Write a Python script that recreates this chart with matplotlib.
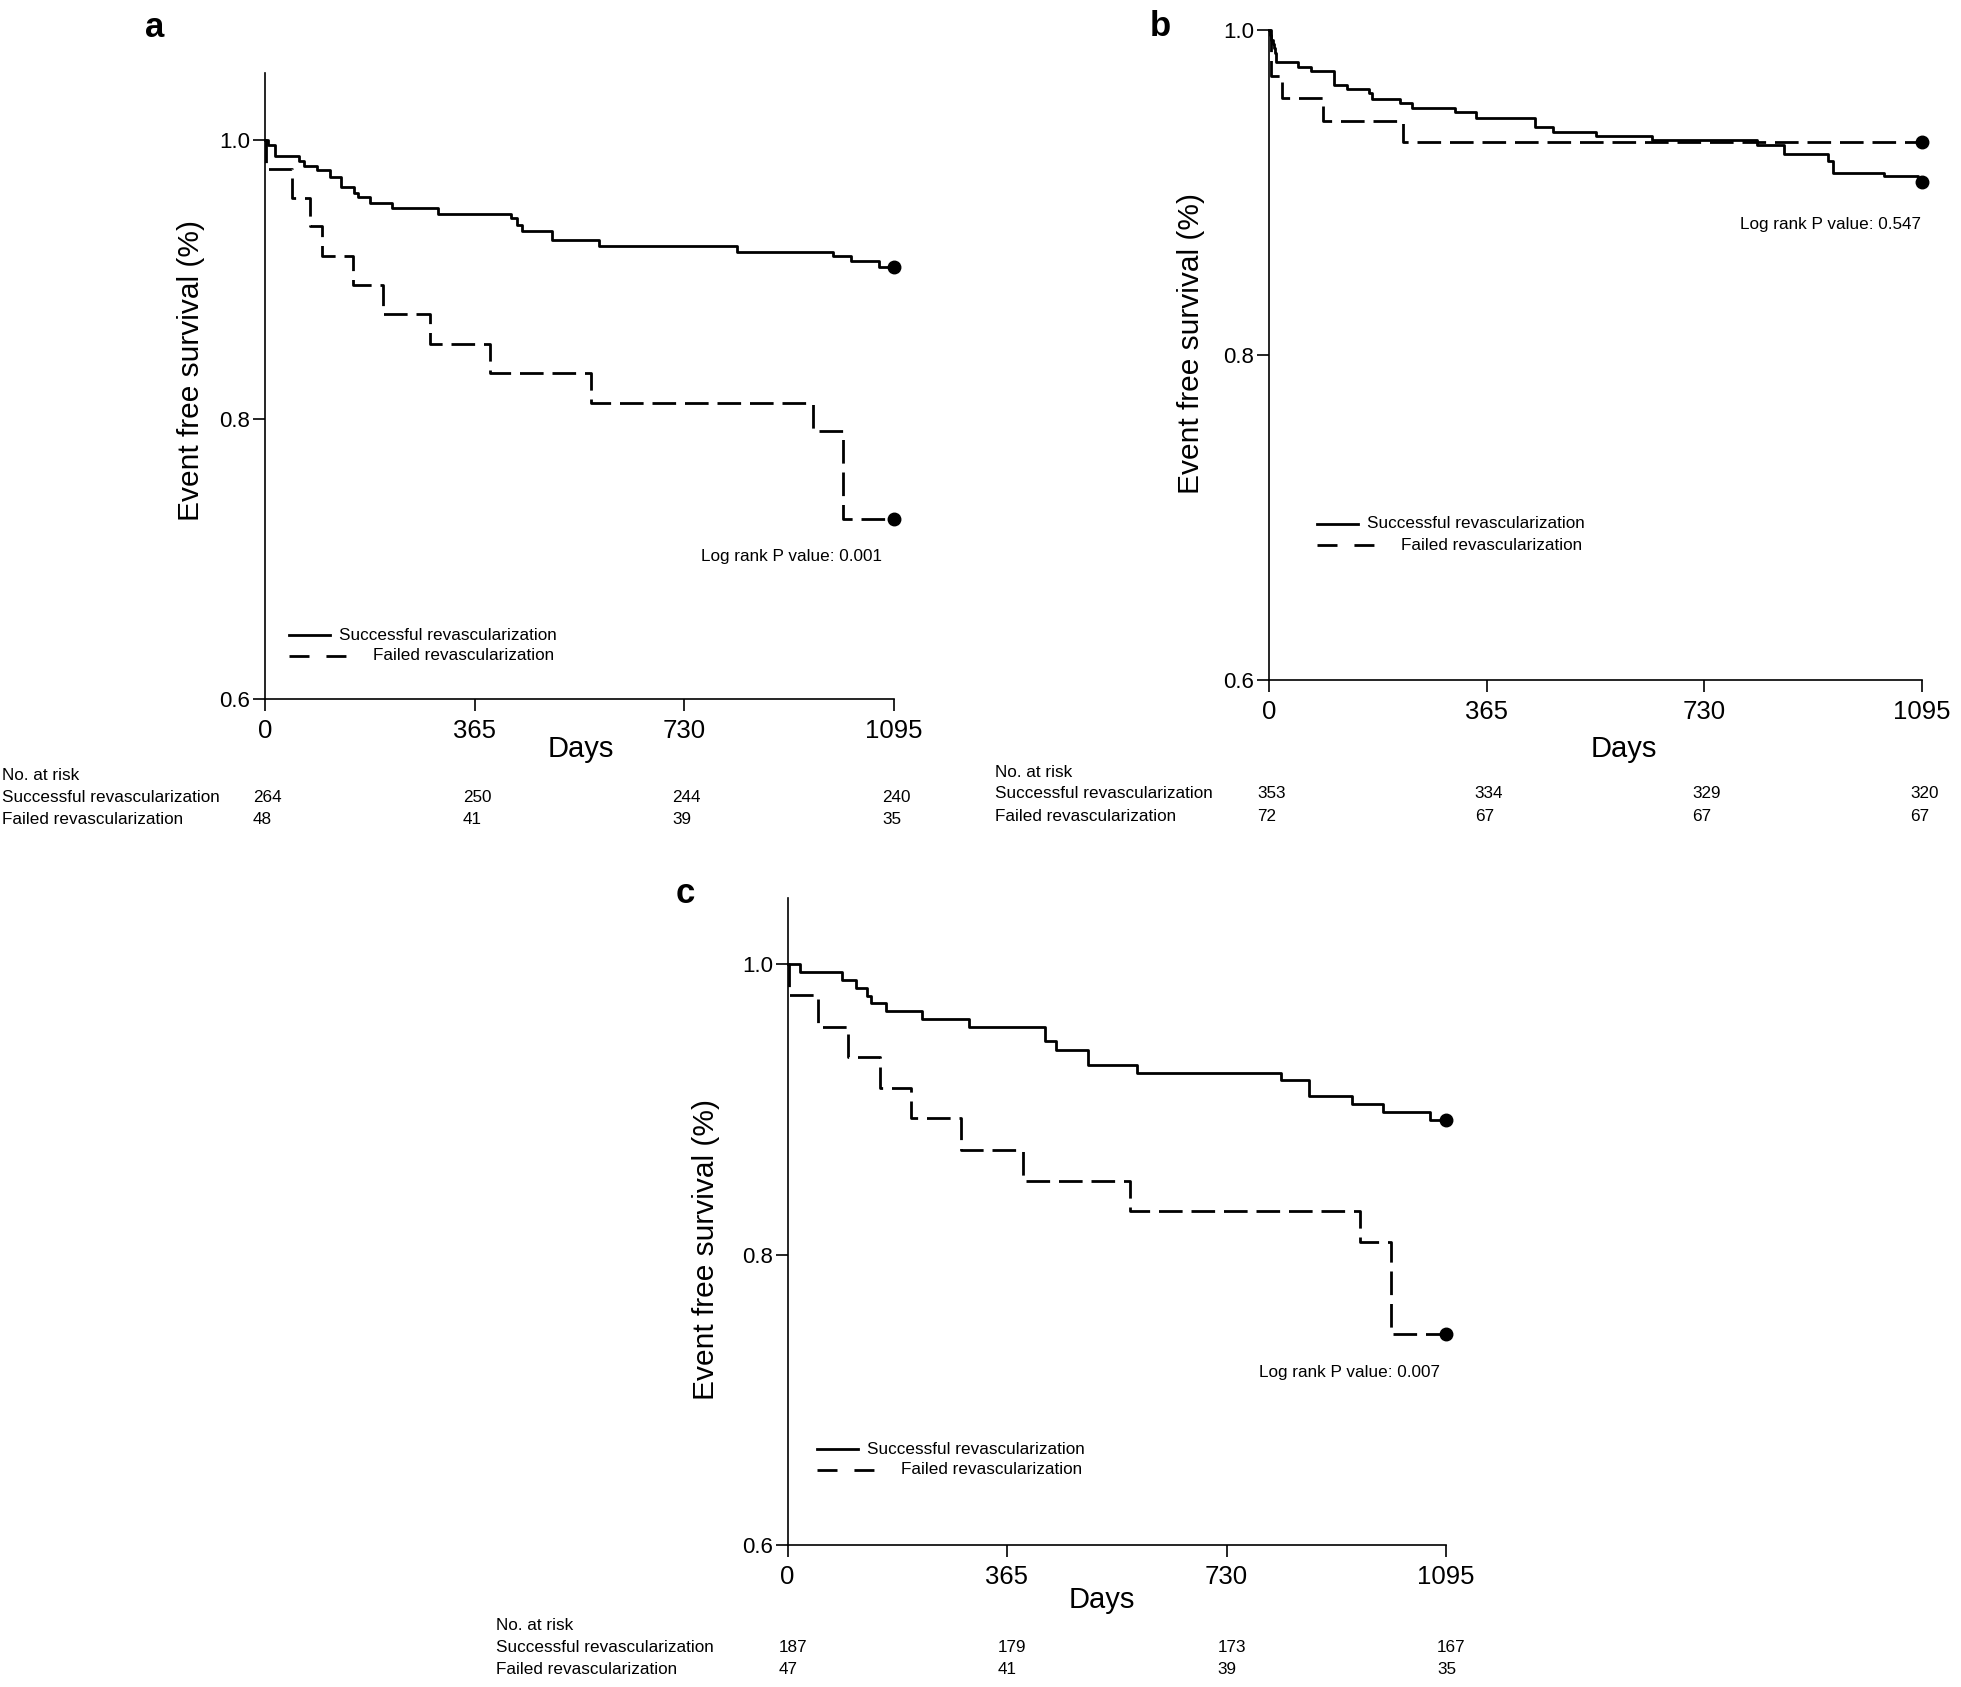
import numpy as np
import matplotlib
matplotlib.use("Agg")
import matplotlib.pyplot as plt
from matplotlib.lines import Line2D
from matplotlib.transforms import blended_transform_factory, offset_copy

plt.rcParams['font.family'] = ['Liberation Sans', 'DejaVu Sans']

W, H = 1961, 1687  # figure size in pixels

days_ticks = [0, 365, 730, 1095]
surv_ticks = [0.6, 0.8, 1.0]
surv_ticklabels = ["0.6", "0.8", "1.0"]
group_names = ["Successful revascularization", "Failed revascularization"]

# ---- panel a (Kaplan-Meier steps) ----
a_succ_days = [0, 5, 17, 60, 68, 90, 113, 132, 155, 162, 183, 221, 302, 428, 438, 447, 499, 581, 822, 989, 1020, 1069, 1095]
a_succ_surv = [1.0, 0.996, 0.988, 0.985, 0.981, 0.978, 0.973, 0.966, 0.962, 0.959, 0.955, 0.951, 0.947, 0.944, 0.939,
               0.935, 0.928, 0.924, 0.920, 0.917, 0.913, 0.909, 0.909]
a_fail_days = [0, 2, 47, 79, 99, 153, 205, 287, 391, 568, 954, 1007, 1095]
a_fail_surv = [1.0, 0.979, 0.958, 0.938, 0.917, 0.896, 0.875, 0.854, 0.833, 0.812, 0.792, 0.729, 0.729]
a_risk_succ = [264, 250, 244, 240]
a_risk_fail = [48, 41, 39, 35]
a_pvalue = "0.001"

# ---- panel b ----
b_succ_days = [0, 1, 3, 6, 9, 10, 11, 12, 49, 70, 109, 130, 167, 172, 220, 239, 312, 347, 446, 476, 549, 642, 818,
               864, 938, 946, 1032, 1088, 1095]
b_succ_surv = [1.0, 0.997, 0.994, 0.9915, 0.989, 0.986, 0.983, 0.9805, 0.9773, 0.9745, 0.966, 0.9635, 0.961, 0.9575,
               0.9549, 0.9518, 0.9494, 0.946, 0.9405, 0.9374, 0.9348, 0.9323, 0.929, 0.9236, 0.9194, 0.9123, 0.910,
               0.9067, 0.9067]
b_fail_days = [0, 4, 21, 91, 225, 1095]
b_fail_surv = [1.0, 0.972, 0.958, 0.944, 0.931, 0.931]
b_risk_succ = [353, 334, 329, 320]
b_risk_fail = [72, 67, 67, 67]
b_pvalue = "0.547"

# ---- panel c ----
c_succ_days = [0, 20, 91, 114, 133, 139, 163, 223, 302, 429, 447, 499, 581, 821, 867, 938, 990, 1068, 1095]
c_succ_surv = [1.0, 0.9945, 0.989, 0.984, 0.978, 0.973, 0.968, 0.962, 0.957, 0.947, 0.941, 0.9306, 0.925, 0.920,
               0.909, 0.904, 0.898, 0.893, 0.893]
c_fail_days = [0, 2, 50, 100, 154, 206, 288, 392, 569, 952, 1004, 1095]
c_fail_surv = [1.0, 0.979, 0.957, 0.936, 0.915, 0.894, 0.872, 0.851, 0.830, 0.809, 0.745, 0.745]
c_risk_succ = [187, 179, 173, 167]
c_risk_fail = [47, 41, 39, 35]
c_pvalue = "0.007"

fig = plt.figure(figsize=(W / 100, H / 100), dpi=100)


def fx(x):
    return x / W


def fy(y):
    return 1 - y / H


def draw_panel(box, ytop, succ_d, succ_s, fail_d, fail_s, risk_s, risk_f, pval,
               letter, letter_xy, ylab_xy, xlab_xy, leg_xy, pval_xy, table_x, table_y, num_dx):
    l, t, r, b = box  # axes box in pixels
    ax = fig.add_axes([fx(l), fy(b), (r - l) / W, (b - t) / H])

    ax.step(succ_d, succ_s, where="post", color="black", lw=2, clip_on=False)
    ax.step(fail_d, fail_s, where="post", color="black", lw=2, ls=(0, (8.5, 3.2)), clip_on=False)
    ax.plot([succ_d[-1], fail_d[-1]], [succ_s[-1], fail_s[-1]], "o", color="black", ms=9, clip_on=False)

    ax.set_xlim(0, 1095)
    ax.set_ylim(0.6, ytop)
    ax.set_xticks(days_ticks)
    ax.set_yticks(surv_ticks, labels=surv_ticklabels)
    for s in ["top", "right"]:
        ax.spines[s].set_visible(False)
    for s in ["left", "bottom"]:
        ax.spines[s].set_linewidth(1.2)
    ax.tick_params(axis="x", direction="out", length=8.6, width=1.2, labelsize=18.5, pad=6)
    ax.tick_params(axis="y", direction="out", length=8.6, width=1.2, labelsize=16, pad=2)

    ax.set_ylabel("Event free survival (%)", fontsize=21.5)
    ax.yaxis.set_label_coords((ylab_xy[0] - l) / (r - l), (b - ylab_xy[1]) / (b - t))
    ax.yaxis.label.set_va("center")
    ax.set_xlabel("Days", fontsize=21)
    ax.xaxis.set_label_coords((xlab_xy[0] - l) / (r - l), (b - xlab_xy[1]) / (b - t))
    ax.xaxis.label.set_va("center")

    # panel letter
    fig.text(fx(letter_xy[0]), fy(letter_xy[1]), letter, fontsize=25, fontweight="bold", va="baseline")

    # legend
    lx, ly = leg_xy
    fig.add_artist(Line2D([fx(lx), fx(lx + 41)], [fy(ly), fy(ly)], color="black", lw=2))
    fig.add_artist(Line2D([fx(lx), fx(lx + 57)], [fy(ly + 21), fy(ly + 21)], color="black", lw=2,
                          ls=(0, (7.2, 6.1))))
    fig.text(fx(lx + 50), fy(ly), group_names[0], fontsize=12.3, va="center")
    fig.text(fx(lx + 84), fy(ly + 21), group_names[1], fontsize=12.3, va="center")

    fig.text(fx(pval_xy[0]), fy(pval_xy[1]), "Log rank P value: " + pval, fontsize=12.3, ha="right", va="center")

    # number at risk table
    fig.text(fx(table_x), fy(table_y[0]), "No. at risk", fontsize=12.3, va="center")
    fig.text(fx(table_x), fy(table_y[1]), group_names[0], fontsize=12.3, va="center")
    fig.text(fx(table_x), fy(table_y[2]), group_names[1], fontsize=12.3, va="center")
    trans = offset_copy(blended_transform_factory(ax.transData, fig.transFigure), fig=fig, x=num_dx, y=0, units="dots")
    for d, ns, nf in zip(days_ticks, risk_s, risk_f):
        ax.text(d, fy(table_y[1]), str(ns), transform=trans, fontsize=12.3, va="center", clip_on=False)
        ax.text(d, fy(table_y[2]), str(nf), transform=trans, fontsize=12.3, va="center", clip_on=False)
    return ax


draw_panel((265, 72.5, 894, 699), 1.048, a_succ_days, a_succ_surv, a_fail_days, a_fail_surv,
           a_risk_succ, a_risk_fail, a_pvalue, "a", (145, 37), (191, 370), (581, 749),
           (289, 635), (882, 557), 2, (776, 797, 819), -12)
draw_panel((1269, 30, 1922, 680), 1.0, b_succ_days, b_succ_surv, b_fail_days, b_fail_surv,
           b_risk_succ, b_risk_fail, b_pvalue, "b", (1150, 36), (1191, 344), (1624, 749),
           (1317, 524), (1921, 225), 995, (773, 794, 816), -12)
draw_panel((787.5, 897.5, 1446, 1545), 1.046, c_succ_days, c_succ_surv, c_fail_days, c_fail_surv,
           c_risk_succ, c_risk_fail, c_pvalue, "c", (676, 903), (706, 1250), (1102, 1600),
           (817, 1449), (1440, 1372), 496, (1625, 1648, 1670), -9)

fig.savefig("out.png", dpi=100)
